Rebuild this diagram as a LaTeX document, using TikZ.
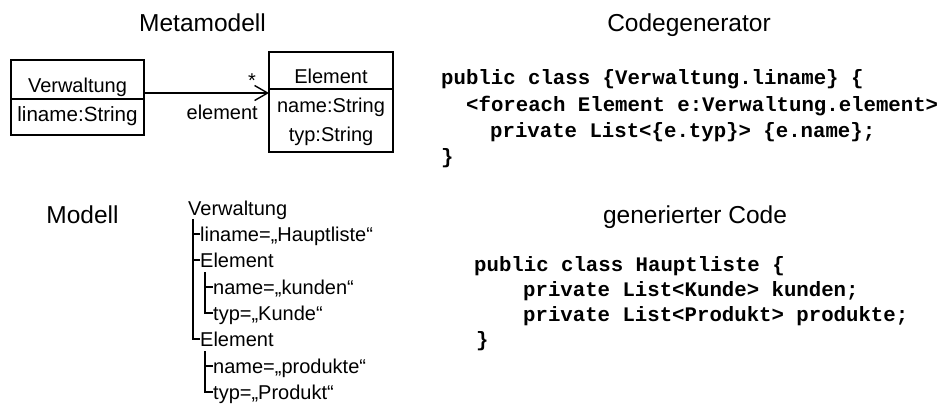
\documentclass[tikz,border=0pt]{standalone}
\usepackage{fontspec}
\setmainfont{Liberation Sans}
\newfontfamily\codefont{Liberation Mono}
\usetikzlibrary{arrows.meta}
\tikzset{
  txt/.style={inner sep=0pt, anchor=base, font=\fontsize{20}{24}\selectfont},
  title/.style={inner sep=0pt, anchor=base, font=\fontsize{24.5}{29}\selectfont},
  ltxt/.style={txt, anchor=base west},
  code/.style={inner sep=0pt, anchor=base west, font=\codefont\bfseries\fontsize{20.7}{24}\selectfont},
  classbox/.style={draw, line width=1.8pt},
  assoc/.style={line width=1.4pt, -{Straight Barb[length=13pt,width=15pt,line width=1.4pt]}},
  tree/.style={line width=1.4pt}
}
\begin{document}
\begin{tikzpicture}[x=1pt,y=-1pt]
\useasboundingbox (0,0) rectangle (945,407);

% section titles
\node[title] (tmeta) at (202.5,31.5) {Metamodell};
\node[title] (tgen) at (689,31.5) {Codegenerator};
\node[title] (tmod) at (82.5,223) {Modell};
\node[title] (tcode) at (695,223) {generierter Code};

% class Verwaltung
\draw[classbox] (11,60) rectangle (144,135);
\draw[classbox] (11,99) -- (144,99);
\coordinate (vwr) at (144,93);
\node[txt] (vname) at (77.5,92) {Verwaltung};
\node[txt, font=\fontsize{20.6}{24}\selectfont] (vattr) at (77.5,121) {liname:String};

% class Element
\draw[classbox] (269,52) rectangle (393,152);
\draw[classbox] (269,89) -- (393,89);
\coordinate (elw) at (269,93);
\node[txt] (ename) at (331,83) {Element};
\node[txt] (eattr1) at (331,112) {name:String};
\node[txt] (eattr2) at (331,141) {typ:String};

% association
\draw[assoc] (vwr) -- (elw);
\node[txt] (mult) at (252,87) {*};
\node[txt, anchor=base east] (role) at (258,119) {element};

% code generator template
\node[code] (g1) at (441,84) {public class \{Verwaltung.liname\} \{};
\node[code] (g2) at (466,111) {<foreach Element e:Verwaltung.element>};
\node[code] (g3) at (490,137) {private List<\{e.typ\}> \{e.name\};};
\node[code] (g4) at (441,163) {\}};

% model instance tree
\node[ltxt] (m0) at (188,215) {Verwaltung};
\node[ltxt] (m1) at (200,241) {liname=„Hauptliste“};
\node[ltxt] (m2) at (200,267.5) {Element};
\node[ltxt] (m3) at (213,294) {name=„kunden“};
\node[ltxt] (m4) at (213,320) {typ=„Kunde“};
\node[ltxt] (m5) at (200,346.5) {Element};
\node[ltxt] (m6) at (213,373) {name=„produkte“};
\node[ltxt] (m7) at (213,399) {typ=„Produkt“};

\draw[tree] (193,219) -- (193,339) -- (m5.west |- 0,339);
\draw[tree] (193,234) -- (m1.west |- 0,234);
\draw[tree] (193,260) -- (m2.west |- 0,260);
\draw[tree] (205,272) -- (205,313) -- (m4.west |- 0,313);
\draw[tree] (205,287) -- (m3.west |- 0,287);
\draw[tree] (205,351) -- (205,392) -- (m7.west |- 0,392);
\draw[tree] (205,366) -- (m6.west |- 0,366);

% generated code
\node[code] (c1) at (474,271) {public class Hauptliste \{};
\node[code] (c2) at (523,296) {private List<Kunde> kunden;};
\node[code] (c3) at (523,321) {private List<Produkt> produkte;};
\node[code] (c4) at (476,346) {\}};
\end{tikzpicture}
\end{document}
